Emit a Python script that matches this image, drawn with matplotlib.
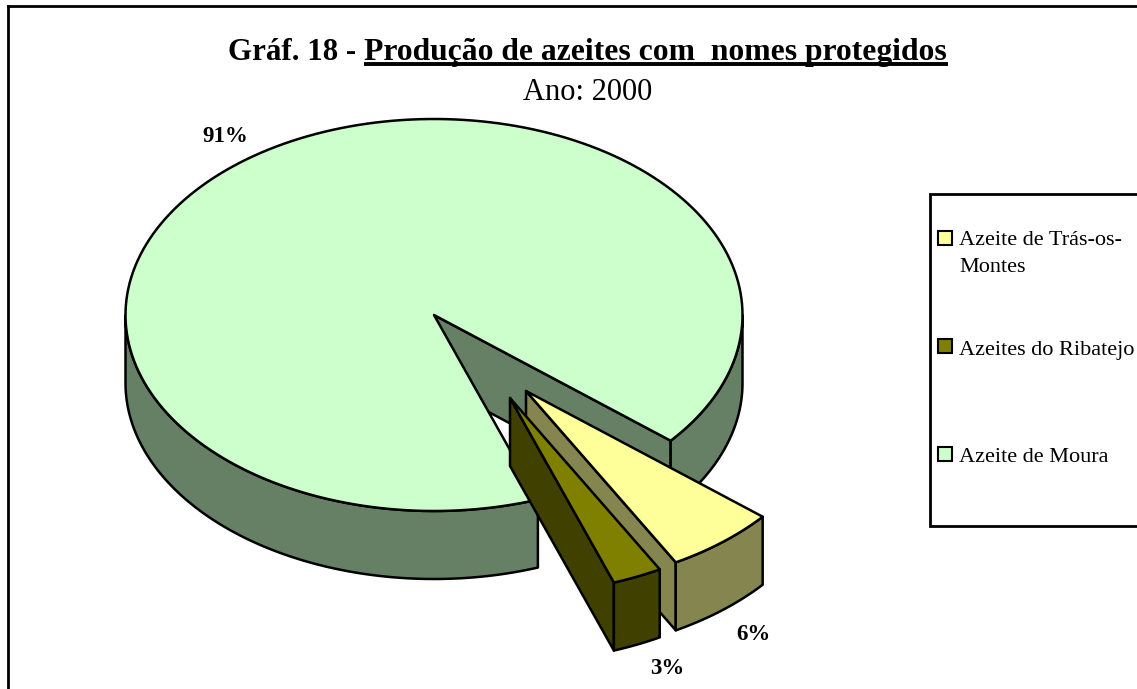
import numpy as np
import matplotlib
matplotlib.use("Agg")
import matplotlib.pyplot as plt
from matplotlib.patches import Polygon, Rectangle

plt.rcParams['font.family'] = ['Liberation Serif', 'DejaVu Serif']

categories = ["Azeite de Trás-os-\nMontes", "Azeites do Ribatejo", "Azeite de Moura"]
values = [5.85, 2.6, 91.55]
pct_labels = ["6%", "3%", "91%"]

top_colors = ["#FFFF99", "#808000", "#CCFFCC"]
side_colors = ["#858550", "#404000", "#668066"]

# pie geometry, in pixels of the picture
cx, cy = 434, 315
rx, ry = 308.5, 196
depth = 68
start = -39.9
explode = [(92, 76), (76, 83), (0, 0)]
label_pos = [(753, 634), (667, 668), (225, 137)]
lw = 1.8

fig = plt.figure(figsize=(11.37, 6.89), dpi=100)
ax = fig.add_axes([0, 0, 1, 1])
ax.set_xlim(0, 1137)
ax.set_ylim(689, 0)
ax.axis("off")


def arc(t0, t1, ox=0, oy=0, dz=0):
    t = np.radians(np.linspace(t0, t1, 200))
    return np.column_stack([cx + ox + rx * np.cos(t), cy + oy + dz - ry * np.sin(t)])


def poly(pts, color, z):
    ax.add_patch(Polygon(pts, closed=True, facecolor=color, edgecolor="black",
                         linewidth=lw, joinstyle="round", zorder=z))


def outer_side(t0, t1, ox, oy, color, z):
    top = arc(t0, t1, ox, oy)
    bottom = arc(t1, t0, ox, oy, depth)
    poly(np.vstack([top, bottom]), color, z)


def wall(t, ox, oy, color, z):
    e = arc(t, t, ox, oy)[0]
    c = (cx + ox, cy + oy)
    poly([c, e, (e[0], e[1] + depth), (c[0], c[1] + depth)], color, z)


# slices go clockwise from the start angle
spans = np.array(values) / sum(values) * 360
ends = start - np.cumsum(spans)
starts = ends + spans

# big slice first, the exploded ones lie in front of it
a0, a1 = starts[2], ends[2]
wall(start, 0, 0, side_colors[2], 1)
outer_side(start, 0, 0, 0, side_colors[2], 2)
outer_side(-180, a0, 0, 0, side_colors[2], 2)
poly(np.vstack([[(cx, cy)], arc(a0, a1)]), top_colors[2], 3)

# yellow then olive
for i, z in [(0, 4), (1, 8)]:
    ox, oy = explode[i]
    t0, t1 = starts[i], ends[i]
    wall(t1, ox, oy, side_colors[i], z)
    outer_side(t0, t1, ox, oy, side_colors[i], z + 1)
    poly(np.vstack([[(cx + ox, cy + oy)], arc(t0, t1, ox, oy)]), top_colors[i], z + 2)

for lab, (x, y) in zip(pct_labels, label_pos):
    ax.text(x, y, lab, fontsize=16.5, fontweight="bold", ha="center", va="center", zorder=20)

# frame, runs off the right and bottom edges
ax.plot([8, 8], [689, 6], color="black", lw=2)
ax.plot([8, 1137], [6, 6], color="black", lw=2)

# title
ax.text(364, 60, "Produção de azeites com  nomes protegidos", fontsize=22.8,
        fontweight="bold", ha="left", va="baseline")
ax.text(356, 60, "Gráf. 18 -", fontsize=22.2, fontweight="bold", ha="right", va="baseline")
ax.plot([364, 948], [64, 64], color="black", lw=2.8, solid_capstyle="butt")
ax.text(588, 100, "Ano: 2000", fontsize=22, ha="center", va="baseline")

# legend
ax.add_patch(Rectangle((930, 194), 220, 332, facecolor="white", edgecolor="black", lw=2, zorder=5))
row_y = [237.5, 345.5, 453.5]
text_y = [254, 351, 458]
for name, col, ry_, ty in zip(categories, top_colors, row_y, text_y):
    ax.add_patch(Rectangle((938, ry_ - 7), 14, 14, facecolor=col, edgecolor="black", lw=1.5, zorder=6))
    ax.text(959, ty, name, fontsize=16, ha="left", va="center", linespacing=1.55, zorder=6)

fig.savefig("out.png", dpi=100)
